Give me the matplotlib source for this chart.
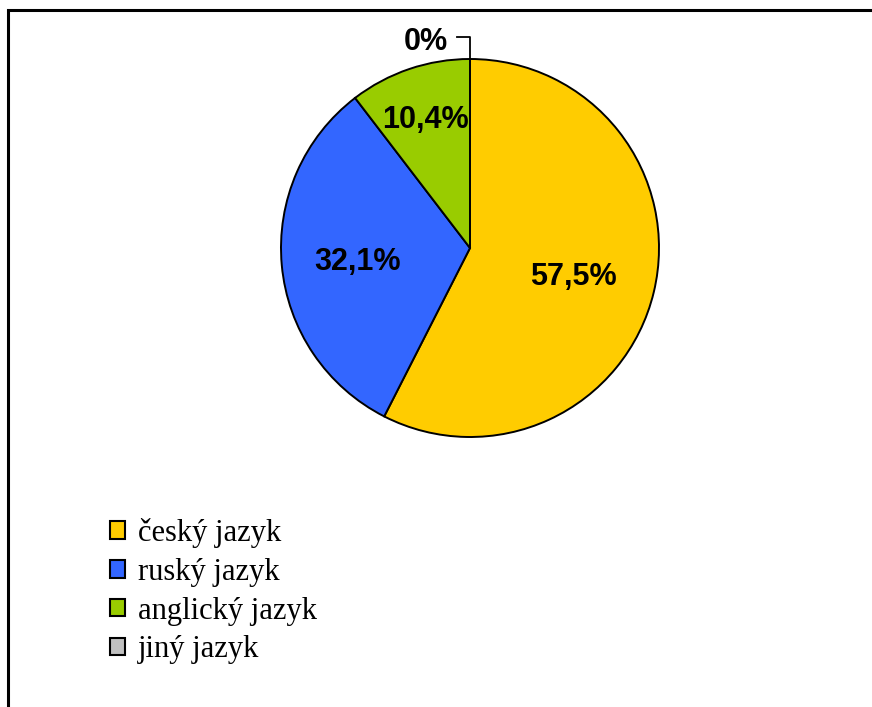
import matplotlib
matplotlib.use("Agg")
import matplotlib.pyplot as plt
import numpy as np
from matplotlib.patches import Patch, Rectangle

# data
languages = ["český jazyk", "ruský jazyk", "anglický jazyk", "jiný jazyk"]
shares = [57.5, 32.1, 10.4, 0.0]
share_labels = ["57,5%", "32,1%", "10,4%", "0%"]
colors = ["#FFCC00", "#3366FF", "#99CC00", "#C0C0C0"]
label_dist = [0.56, 0.6, 0.74]

W, H = 872, 707
fig = plt.figure(figsize=(W / 100, H / 100), dpi=100)
ax = fig.add_axes([0, 0, 1, 1])

# outer frame (runs off the right and bottom edge)
ax.add_patch(Rectangle((8, -20), W + 40, H - 10 + 20, fill=False,
                       edgecolor="black", linewidth=2.2))

cx, cy, r = 470, H - 248, 189
wedges, _ = ax.pie(shares, colors=colors, startangle=90, counterclock=False,
                   center=(cx, cy), radius=r, frame=True,
                   wedgeprops=dict(edgecolor="black", linewidth=1.4))
ax.set_xlim(0, W)
ax.set_ylim(0, H)
ax.set_aspect("equal")
ax.axis("off")

for w, lab, d in zip(wedges[:3], share_labels[:3], label_dist):
    ang = np.deg2rad((w.theta1 + w.theta2) / 2)
    ax.text(cx + d * r * np.cos(ang), cy + d * r * np.sin(ang) - 4, lab,
            ha="center", va="center", fontsize=22, fontweight="bold",
            family="Liberation Sans")

# zero slice label with leader line
ang0 = np.deg2rad(wedges[3].theta1)
top_x, top_y = cx + r * np.cos(ang0), cy + r * np.sin(ang0)
ly = top_y + 22
ax.plot([top_x - 13, top_x, top_x], [ly, ly, top_y], color="black", lw=1.3)
ax.text(top_x - 22, ly - 5, share_labels[3], ha="right", va="center",
        fontsize=22, fontweight="bold", family="Liberation Sans")

handles = [Patch(facecolor=c, edgecolor="black", linewidth=1.5) for c in colors]
fig.legend(handles, languages, loc="upper left",
           bbox_to_anchor=(110 / W, 1 - 518 / H), frameon=False,
           prop=dict(family="Liberation Serif", size=22),
           handlelength=0.5, handleheight=0.5, handletextpad=0.4,
           labelspacing=0.32, borderpad=0, borderaxespad=0)

fig.savefig("out.png", dpi=100)
